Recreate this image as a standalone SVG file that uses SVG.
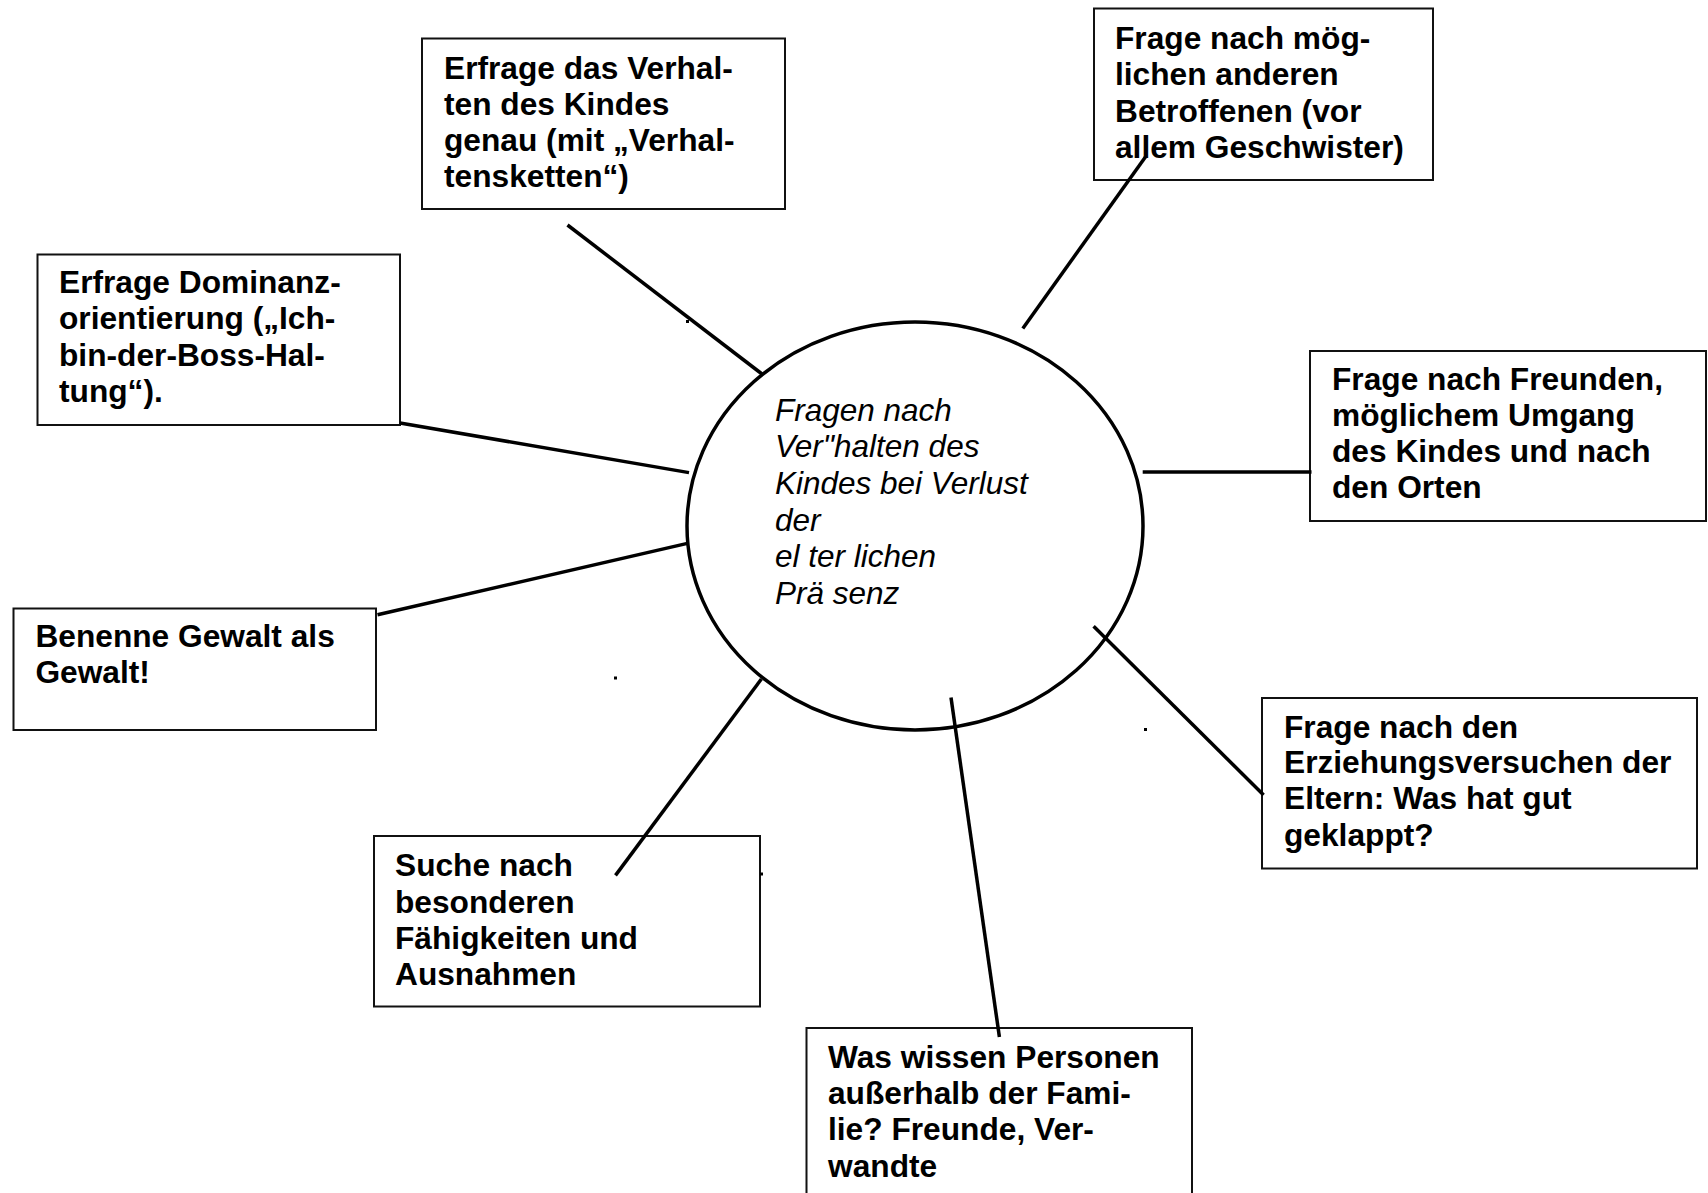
<svg xmlns="http://www.w3.org/2000/svg" width="1708" height="1193" viewBox="0 0 1708 1193">
<style>
.box{fill:#fff;stroke:#111;stroke-width:2}
.t{font-family:"Liberation Sans",Arial,sans-serif;font-weight:bold;font-size:31.7px;fill:#000}
.c{font-family:"Liberation Sans",Arial,sans-serif;font-style:italic;font-size:31.5px;fill:#000}
.ln{stroke:#000;stroke-width:3.5;fill:none}
</style>
<rect width="1708" height="1193" fill="#fff"/>
<g id="center">
<ellipse cx="915" cy="526" rx="228" ry="204" fill="none" stroke="#000" stroke-width="3.5"/>
<text class="c"><tspan x="775" y="420.7">Fragen nach</tspan><tspan x="775" y="457.3">Ver"halten des</tspan><tspan x="775" y="494">Kindes bei Verlust</tspan><tspan x="775" y="530.7">der</tspan><tspan x="775" y="567.3">el ter lichen</tspan><tspan x="775" y="604">Prä senz</tspan></text>
</g>
<g id="n-verhalten">
<rect class="box" x="422" y="38.5" width="363" height="170.5"/>
<text class="t"><tspan x="444" y="78.5">Erfrage das Verhal-</tspan><tspan x="444" y="114.8">ten des Kindes</tspan><tspan x="444" y="150.6">genau (mit „Verhal-</tspan><tspan x="444" y="186.8">tensketten“)</tspan></text>
</g>
<g id="n-geschwister">
<rect class="box" x="1094" y="8.5" width="339" height="171.5"/>
<text class="t"><tspan x="1115" y="49">Frage nach mög-</tspan><tspan x="1115" y="85">lichen anderen</tspan><tspan x="1115" y="121.5">Betroffenen (vor</tspan><tspan x="1115" y="157.7">allem Geschwister)</tspan></text>
</g>
<g id="n-freunde">
<rect class="box" x="1310" y="351" width="396" height="170"/>
<text class="t"><tspan x="1332" y="390.4">Frage nach Freunden,</tspan><tspan x="1332" y="425.5">möglichem Umgang</tspan><tspan x="1332" y="461.5">des Kindes und nach</tspan><tspan x="1332" y="497.5">den Orten</tspan></text>
</g>
<g id="n-dominanz">
<rect class="box" x="37.5" y="254.5" width="362.5" height="170.5"/>
<text class="t"><tspan x="59" y="292.8">Erfrage Dominanz-</tspan><tspan x="59" y="329">orientierung („Ich-</tspan><tspan x="59" y="365.5">bin-der-Boss-Hal-</tspan><tspan x="59" y="401.8">tung“).</tspan></text>
</g>
<g id="n-gewalt">
<rect class="box" x="13.5" y="608.5" width="362.5" height="121.5"/>
<text class="t"><tspan x="35.4" y="646.6">Benenne Gewalt als</tspan><tspan x="35.4" y="683">Gewalt!</tspan></text>
</g>
<g id="n-faehigkeiten">
<rect class="box" x="374" y="836" width="386" height="170.5"/>
<text class="t"><tspan x="395" y="876.2">Suche nach</tspan><tspan x="395" y="912.6">besonderen</tspan><tspan x="395" y="948.9">Fähigkeiten und</tspan><tspan x="395" y="985.3">Ausnahmen</tspan></text>
</g>
<g id="n-personen">
<rect class="box" x="806.5" y="1028" width="385.5" height="180"/>
<text class="t"><tspan x="828" y="1067.5">Was wissen Personen</tspan><tspan x="828" y="1103.8">außerhalb der Fami-</tspan><tspan x="828" y="1140">lie? Freunde, Ver-</tspan><tspan x="828" y="1176.5">wandte</tspan></text>
</g>
<g id="n-erziehung">
<rect class="box" x="1262" y="698" width="435" height="170.5"/>
<text class="t"><tspan x="1284" y="738.4">Frage nach den</tspan><tspan x="1284" y="772.9">Erziehungsversuchen der</tspan><tspan x="1284" y="809.2">Eltern: Was hat gut</tspan><tspan x="1284" y="845.6">geklappt?</tspan></text>
</g>
<g id="connectors">
<line class="ln" x1="567.5" y1="225" x2="762" y2="374"/>
<line class="ln" x1="400" y1="423" x2="689" y2="472.6"/>
<line class="ln" x1="377.5" y1="614.8" x2="687.4" y2="543.4"/>
<line class="ln" x1="615.5" y1="875.4" x2="761.4" y2="679"/>
<line class="ln" x1="951" y1="697.5" x2="999.4" y2="1037"/>
<line class="ln" x1="1093.6" y1="626.3" x2="1263.6" y2="795"/>
<line class="ln" x1="1142.7" y1="471.9" x2="1311.5" y2="471.9"/>
<line class="ln" x1="1022.8" y1="328.4" x2="1145.4" y2="157"/>
<rect x="686" y="320" width="3" height="3"/>
<rect x="614" y="676.5" width="3" height="3"/>
<rect x="760" y="872.5" width="3" height="3"/>
<rect x="1144" y="728" width="3" height="3"/>
</g>
</svg>
